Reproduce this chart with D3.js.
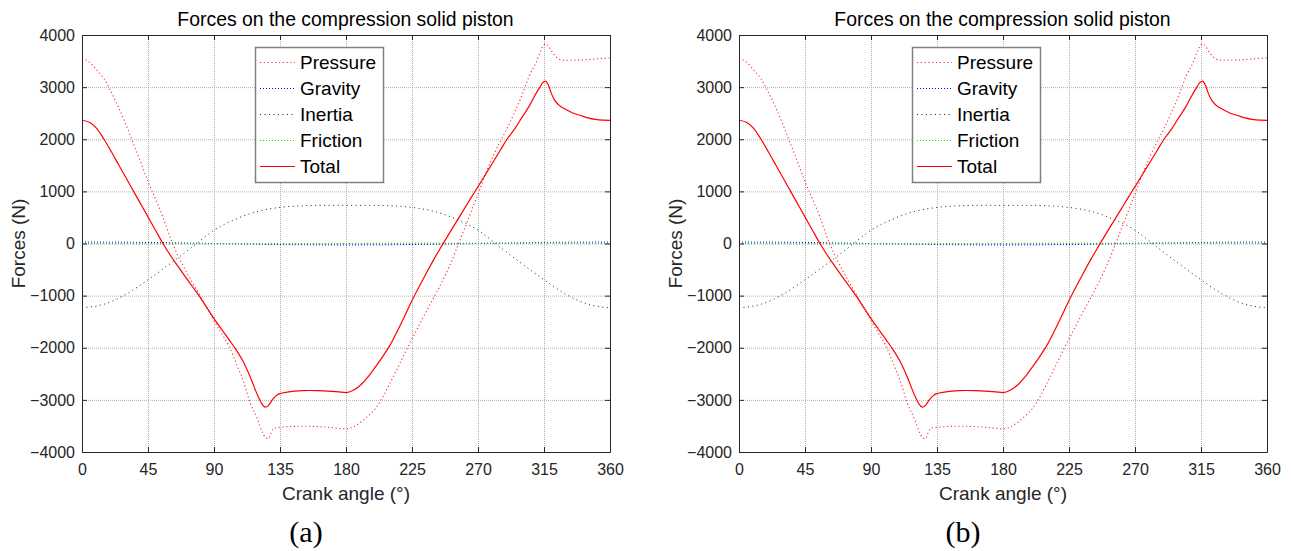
<!DOCTYPE html>
<html><head><meta charset="utf-8">
<script src="https://cdn.jsdelivr.net/npm/d3@7"></script>
<style>html,body{margin:0;padding:0;background:#fff;} svg{display:block;}</style>
</head><body>
<svg id="chart" width="1291" height="551"></svg>
<script>
// ---------- data ----------
const xTicks = [0, 45, 90, 135, 180, 225, 270, 315, 360];
const yTicks = [-4000, -3000, -2000, -1000, 0, 1000, 2000, 3000, 4000];
const seriesNames = ["Pressure", "Gravity", "Inertia", "Friction", "Total"];
const panelLabels = ["(a)", "(b)"];
const chartTitle = "Forces on the compression solid piston";
const xLabel = "Crank angle (°)";
const yLabel = "Forces (N)";

const anglesFine = [0,5,10,15,20,25,30,35,40,45,50,55,60,65,70,75,80,85,90,95,100,105,110,115,120,123,125,127,130,133,
  135,140,145,150,155,160,165,170,175,180,185,190,195,200,205,210,215,220,225,230,235,240,245,250,255,260,265,270,275,280,285,290,295,300,305,310,
  312,314,316,318,320,322,325,330,335,340,345,350,355,360];
const pressure = [3551,3480,3330,3160,2900,2610,2280,1920,1560,1190,860,520,130,-210,-480,-740,-980,-1230,-1480,-1720,-1955,-2290,-2640,-3080,-3390,-3620,-3720,-3745,-3570,-3530,
  -3525,-3515,-3508,-3505,-3507,-3512,-3520,-3530,-3545,-3557,-3520,-3430,-3310,-3170,-2950,-2680,-2400,-2110,-1830,-1560,-1290,-1030,-760,-470,-130,230,590,950,1320,1660,1950,2220,2520,2850,3220,3500,
  3650,3770,3830,3790,3700,3620,3540,3515,3515,3520,3530,3540,3552,3560];
const total = [2365,2325,2210,2000,1760,1510,1260,1010,760,510,260,10,-215,-420,-620,-815,-1010,-1225,-1440,-1640,-1835,-2035,-2270,-2580,-2930,-3090,-3140,-3110,-2990,-2905,
  -2880,-2850,-2832,-2822,-2820,-2822,-2828,-2836,-2846,-2860,-2815,-2715,-2560,-2370,-2170,-1950,-1680,-1390,-1094,-820,-555,-300,-60,175,405,635,865,1090,1320,1550,1780,2010,2200,2420,2640,2900,
  2990,3080,3115,3040,2880,2760,2660,2570,2500,2455,2410,2380,2365,2361];

const anglesCoarse = [0,15,30,45,60,75,90,105,120,135,150,165,180,195,210,225,240,255,270,285,300,315,330,345,360];
const gravity  = [28,27,24,20,14,7,0,-7,-14,-20,-24,-27,-28,-27,-24,-20,-14,-7,0,7,14,20,24,27,28];
const inertia  = [-1234,-1165,-975,-695,-390,-70,255,470,617,692,724,732,732,732,724,692,617,470,255,-70,-390,-695,-975,-1165,-1234];
const friction = [0,-3,-5,-6,-6,-6,-6,-6,-6,-5,-4,-2,0,3,5,6,6,6,6,6,6,6,5,3,0];

// ---------- layout ----------
const svg = d3.select("#chart");
const W = 528, H = 417, TOP = 35;
const panelLefts = [82, 739];
const AX = "#262626";
const SANS = "'Liberation Sans', Arial, sans-serif";

const series = [
  {name: seriesNames[0], xs: anglesFine,   ys: pressure, color: "#ff2a2a", dash: "1.2,2.6", width: 1.1},
  {name: seriesNames[1], xs: anglesCoarse, ys: gravity,  color: "#0000ff", dash: "1,2",     width: 1.0},
  {name: seriesNames[2], xs: anglesCoarse, ys: inertia,  color: "#222222", dash: "1,3.5",   width: 1.0},
  {name: seriesNames[3], xs: anglesCoarse, ys: friction, color: "#00e000", dash: "1,2",     width: 1.0},
  {name: seriesNames[4], xs: anglesFine,   ys: total,    color: "#ff0000", dash: null,      width: 1.2}
];

panelLefts.forEach((left, pi) => {
  const g = svg.append("g").attr("transform", `translate(${left},${TOP})`);
  const x = d3.scaleLinear().domain([0, 360]).range([0, W]);
  const y = d3.scaleLinear().domain([-4000, 4000]).range([H, 0]);
  const fmt = d3.format("d");

  // grid
  const grid = g.append("g").attr("stroke", "#b0b0b0").attr("stroke-width", 1).attr("stroke-dasharray", "1,1");
  grid.selectAll(".vx").data(xTicks.slice(1, -1)).join("line")
    .attr("x1", d => x(d) + 0.5).attr("x2", d => x(d) + 0.5).attr("y1", 0).attr("y2", H);
  grid.selectAll(".hy").data(yTicks.slice(1, -1)).join("line")
    .attr("y1", d => y(d) + 0.5).attr("y2", d => y(d) + 0.5).attr("x1", 0).attr("x2", W);

  // series
  series.forEach(s => {
    const line = d3.line().x(i => x(s.xs[i])).y(i => y(s.ys[i])).curve(d3.curveMonotoneX);
    g.append("path").datum(d3.range(s.xs.length))
      .attr("d", line).attr("fill", "none")
      .attr("stroke", s.color).attr("stroke-width", s.width)
      .attr("stroke-dasharray", s.dash);
  });

  // axes
  const style = sel => {
    sel.select(".domain").attr("stroke", AX);
    sel.selectAll(".tick line").attr("stroke", AX);
    sel.selectAll(".tick text").attr("fill", AX).attr("font-family", SANS).attr("font-size", 16);
  };
  g.append("g").attr("transform", `translate(0,${H})`)
    .call(d3.axisBottom(x).tickValues(xTicks).tickFormat(fmt).tickSizeInner(-5).tickSizeOuter(0).tickPadding(12)).call(style);
  g.append("g")
    .call(d3.axisLeft(y).tickValues(yTicks).tickFormat(fmt).tickSizeInner(-5).tickSizeOuter(0).tickPadding(7)).call(style);
  g.append("g")
    .call(d3.axisTop(x).tickValues(xTicks).tickSizeInner(-5).tickSizeOuter(0).tickFormat("")).call(style);
  g.append("g").attr("transform", `translate(${W},0)`)
    .call(d3.axisRight(y).tickValues(yTicks).tickSizeInner(-5).tickSizeOuter(0).tickFormat("")).call(style);

  // legend
  const lg = g.append("g").attr("transform", `translate(173,${47 - TOP})`);
  lg.append("rect").attr("x", 0.5).attr("y", 0.5).attr("width", 128).attr("height", 135)
    .attr("fill", "#fff").attr("stroke", "#808080").attr("stroke-width", 1.5);
  series.forEach((s, i) => {
    const ry = 15.5 + i * 26;
    lg.append("line").attr("x1", 5).attr("x2", 40).attr("y1", ry).attr("y2", ry)
      .attr("stroke", s.color).attr("stroke-width", s.width).attr("stroke-dasharray", s.dash);
    lg.append("text").attr("x", 45).attr("y", ry).attr("dy", "0.36em")
      .attr("font-family", SANS).attr("font-size", 19).attr("fill", "#000")
      .text(s.name);
  });

  // title & labels
  g.append("text").attr("x", 263.5).attr("y", 26 - TOP).attr("text-anchor", "middle")
    .attr("font-family", SANS).attr("font-size", 19.4).attr("fill", "#000")
    .text(chartTitle);
  g.append("text").attr("x", 264).attr("y", 500 - TOP).attr("text-anchor", "middle")
    .attr("font-family", SANS).attr("font-size", 19).attr("fill", AX)
    .text(xLabel);
  g.append("text").attr("transform", `translate(-57,${H / 2}) rotate(-90)`).attr("text-anchor", "middle")
    .attr("font-family", SANS).attr("font-size", 19).attr("fill", AX)
    .text(yLabel);
  g.append("text").attr("x", 224).attr("y", 542 - TOP).attr("text-anchor", "middle")
    .attr("font-family", "'Liberation Serif', 'Times New Roman', serif").attr("font-size", 30).attr("fill", "#000")
    .text(panelLabels[pi]);
});
</script>
</body></html>
